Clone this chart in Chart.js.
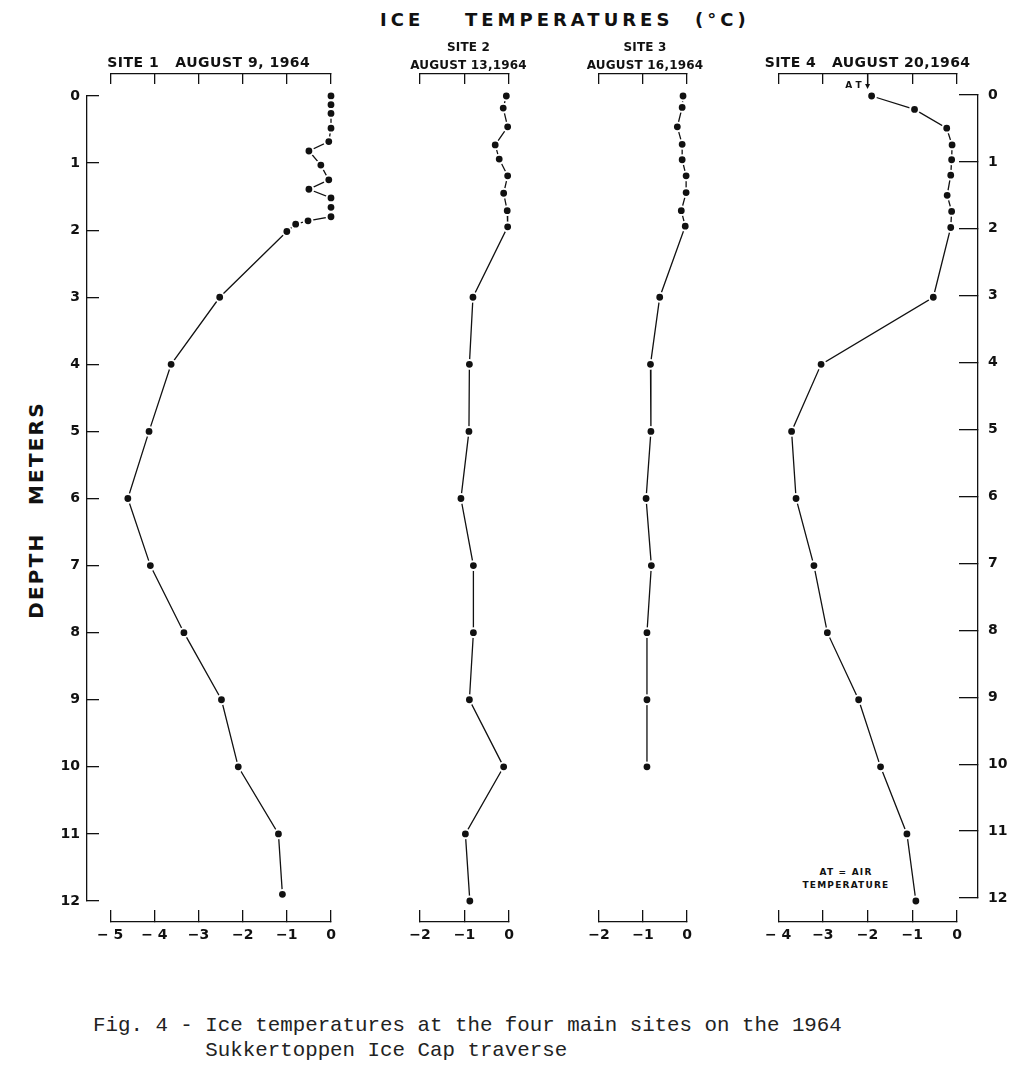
<!DOCTYPE html>
<html>
<head>
<meta charset="utf-8">
<script src="https://cdn.jsdelivr.net/npm/chart.js@4.4.1/dist/chart.umd.min.js"></script>
<style>
  html, body { margin: 0; padding: 0; background: #fff; }
  #page { position: relative; width: 1017px; height: 1083px; background: #fff; overflow: hidden; }
  #page canvas { position: absolute; top: 0; }
  .t { position: absolute; white-space: pre; color: #111; font-family: 'DejaVu Sans', sans-serif; line-height: 1; }
  .title { font-size: 18px; font-weight: bold; letter-spacing: 4px; top: 11px; }
  #depthLabel { left: 36px; top: 510px; font-size: 20px; font-weight: bold; letter-spacing: 2.2px; transform: translate(-50%, -50%) rotate(-90deg); }
  #atNote { left: 786px; top: 866px; width: 120px; text-align: center; font-size: 9px; font-weight: bold; letter-spacing: 1.2px; line-height: 13px; }
  #caption { left: 93px; top: 1013px; font-family: 'Liberation Mono', 'DejaVu Sans Mono', monospace; font-size: 20.8px; line-height: 25px; color: #222; }
</style>
</head>
<body>
<div id="page">
  <div class="t title" style="left:380px">ICE</div>
  <div class="t title" style="left:465px">TEMPERATURES</div>
  <div class="t title" style="left:695px">(°C)</div>
  <div class="t" id="depthLabel">DEPTH   METERS</div>
  <div class="t" id="atNote">AT = AIR
TEMPERATURE</div>
  <div class="t" id="caption">Fig. 4 - Ice temperatures at the four main sites on the 1964
         Sukkertoppen Ice Cap traverse</div>
</div>
<script>
// ---------------- data ----------------
const depthTickLabels = ['0', '1', '2', '3', '4', '5', '6', '7', '8', '9', '10', '11', '12'];

const site1Title = ['SITE 1   AUGUST 9, 1964'];
const site1Range = [-5, 0];
const site1TickLabels = ['\u2212 5', '\u2212 4', '\u22123', '\u22122', '\u22121', '0'];
const site1Depth = [0, 0.13, 0.26, 0.48, 0.68, 0.82, 1.03, 1.25, 1.39, 1.52, 1.66, 1.8, 1.86, 1.91, 2.02, 3, 4, 5, 6, 7, 8, 9, 10, 11, 11.9];
const site1Temp  = [0, 0, 0, 0, -0.05, -0.5, -0.23, -0.05, -0.5, 0, 0, 0, -0.52, -0.8, -1.0, -2.52, -3.62, -4.12, -4.6, -4.09, -3.33, -2.48, -2.1, -1.19, -1.1];

const site2Title = ['SITE 2', 'AUGUST 13,1964'];
const site2Range = [-2, 0];
const site2TickLabels = ['\u22122', '\u22121', '0'];
const site2Depth = [0, 0.18, 0.46, 0.73, 0.94, 1.19, 1.45, 1.71, 1.95, 3, 4, 5, 6, 7, 8, 9, 10, 11, 12];
const site2Temp  = [-0.06, -0.13, -0.03, -0.31, -0.22, -0.03, -0.12, -0.04, -0.03, -0.81, -0.89, -0.9, -1.08, -0.8, -0.8, -0.89, -0.12, -0.98, -0.88];

const site3Title = ['SITE 3', 'AUGUST 16,1964'];
const site3Range = [-2, 0];
const site3TickLabels = ['\u22122', '\u22121', '0'];
const site3Depth = [0, 0.17, 0.46, 0.72, 0.95, 1.19, 1.44, 1.71, 1.94, 3, 4, 5, 6, 7, 8, 9, 10];
const site3Temp  = [-0.09, -0.11, -0.22, -0.11, -0.11, -0.02, -0.02, -0.13, -0.04, -0.62, -0.83, -0.82, -0.93, -0.81, -0.91, -0.91, -0.91];

const site4Title = ['SITE 4   AUGUST 20,1964'];
const site4Range = [-4, 0];
const site4TickLabels = ['\u2212 4', '\u22123', '\u22122', '\u22121', '0'];
const site4Depth = [0, 0.2, 0.48, 0.73, 0.95, 1.18, 1.48, 1.72, 1.96, 3, 4, 5, 6, 7, 8, 9, 10, 11, 12];
const site4Temp  = [-1.91, -0.95, -0.23, -0.11, -0.12, -0.14, -0.22, -0.12, -0.14, -0.53, -3.04, -3.7, -3.6, -3.2, -2.9, -2.2, -1.71, -1.12, -0.92];
const site4AirTemp = -2;

// ---------------- layout ----------------
const INK = '#111';
const CANVAS_H = 1000;
const DEPTH0_PX = 96, DEPTH12_PX = 901;
const AREA_TOP = 74, AREA_BOTTOM = 922;
const PAD_X = 30;
const LEFT_AXIS_X = 87;
const RIGHT_AXIS_X = 978;
const NUM_FONT = { family: "'DejaVu Sans', sans-serif", size: 14, weight: 'bold' };
const page = document.getElementById('page');

function addCanvas(left, width) {
  const c = document.createElement('canvas');
  c.width = width; c.height = CANVAS_H;
  c.style.left = left + 'px';
  c.style.width = width + 'px'; c.style.height = CANVAS_H + 'px';
  page.appendChild(c);
  return c;
}

const baseOptions = () => ({
  responsive: false, animation: false, devicePixelRatio: 1, events: [],
  plugins: { legend: { display: false }, tooltip: { enabled: false } }
});

// site heading drawn above the top temperature axis (no width squeezing)
const siteHeading = (lines, align, size, firstY, gap, spacing, dx) => ({
  id: 'siteHeading',
  afterDraw(chart) {
    const s = chart.scales.xTop;
    const ctx = chart.ctx;
    ctx.save();
    ctx.letterSpacing = spacing + 'px';
    ctx.font = "bold " + size + "px 'DejaVu Sans'";
    ctx.fillStyle = INK;
    ctx.textBaseline = 'middle';
    ctx.textAlign = align === 'start' ? 'left' : 'center';
    const x = (align === 'start' ? s.left : (s.left + s.right) / 2) + dx;
    lines.forEach((t, i) => ctx.fillText(t, x, firstY + i * gap));
    ctx.restore();
  }
});

const atMarker = {
  id: 'atMarker',
  afterDraw(chart) {
    const s = chart.scales.xTop;
    const x = s.getPixelForValue(site4AirTemp);
    const y0 = s.bottom;
    const ctx = chart.ctx;
    ctx.save();
    ctx.strokeStyle = INK; ctx.fillStyle = INK; ctx.lineWidth = 1.3;
    ctx.beginPath(); ctx.moveTo(x, y0); ctx.lineTo(x, y0 + 12); ctx.stroke();
    ctx.beginPath(); ctx.moveTo(x - 2.5, y0 + 10); ctx.lineTo(x + 2.5, y0 + 10); ctx.lineTo(x, y0 + 15); ctx.closePath(); ctx.fill();
    ctx.font = "bold 9px 'DejaVu Sans'"; ctx.textAlign = 'right'; ctx.textBaseline = 'alphabetic';
    ctx.fillText('A T', x - 6, y0 + 14);
    ctx.restore();
  }
};

const panels = [
  { heading: siteHeading(site1Title, 'start', 14, 63, 18, 0.5, -3), range: site1Range, labels: site1TickLabels, depth: site1Depth, temp: site1Temp, left: 110, right: 331 },
  { heading: siteHeading(site2Title, 'center', 12, 47.5, 18, 0.2, 4), range: site2Range, labels: site2TickLabels, depth: site2Depth, temp: site2Temp, left: 420, right: 509 },
  { heading: siteHeading(site3Title, 'center', 12, 47.5, 18, 0.2, 2), range: site3Range, labels: site3TickLabels, depth: site3Depth, temp: site3Temp, left: 599, right: 687 },
  { heading: siteHeading(site4Title, 'center', 14, 63, 18, 0.4, 0), range: site4Range, labels: site4TickLabels, depth: site4Depth, temp: site4Temp, left: 778, right: 957, extra: [atMarker] }
];

const pxPerM = (DEPTH12_PX - DEPTH0_PX) / 12;

panels.forEach(p => {
  const cv = addCanvas(p.left - PAD_X, (p.right - p.left) + 2 * PAD_X);
  const opts = baseOptions();
  opts.layout = { padding: { left: PAD_X, right: PAD_X, top: 0, bottom: 0 } };
  opts.scales = {
    y: { type: 'linear', display: false, reverse: true,
         min: (AREA_TOP - DEPTH0_PX) / pxPerM, max: (AREA_BOTTOM - DEPTH0_PX) / pxPerM },
    x: { type: 'linear', position: 'bottom', min: p.range[0], max: p.range[1],
         afterFit: s => { s.height = CANVAS_H - AREA_BOTTOM; },
         ticks: { stepSize: 1, autoSkip: false, maxRotation: 0, padding: 17, color: INK, font: NUM_FONT,
                  callback: v => p.labels[Math.round(v - p.range[0])] },
         grid: { drawOnChartArea: false, drawTicks: true, tickLength: -12, color: INK, lineWidth: 1.3 },
         border: { display: true, color: INK, width: 1.3 } },
    xTop: { type: 'linear', position: 'top', min: p.range[0], max: p.range[1],
         afterFit: s => { s.height = AREA_TOP; },
         ticks: { display: false, stepSize: 1, autoSkip: false },
         grid: { drawOnChartArea: false, drawTicks: true, tickLength: -10, color: INK, lineWidth: 1.3 },
         border: { display: true, color: INK, width: 1.3 } }
  };
  new Chart(cv, {
    type: 'scatter',
    data: { datasets: [{
      data: p.depth.map((d, i) => ({ x: p.temp[i], y: d })),
      showLine: true, tension: 0, clip: false,
      borderColor: INK, borderWidth: 1.3,
      pointRadius: 4.4, pointHoverRadius: 4.4, pointBorderWidth: 2,
      pointBorderColor: '#fff', pointBackgroundColor: INK
    }] },
    options: opts,
    plugins: [p.heading].concat(p.extra || [])
  });
});

// left depth axis
(function () {
  const cv = addCanvas(0, 140);
  const opts = baseOptions();
  opts.layout = { padding: { left: 0, right: 0, top: DEPTH0_PX, bottom: CANVAS_H - DEPTH12_PX } };
  opts.scales = {
    x: { display: false, min: 0, max: 1 },
    y: { type: 'linear', position: 'left', reverse: true, min: 0, max: 12,
         afterFit: s => { s.width = LEFT_AXIS_X; },
         ticks: { stepSize: 1, autoSkip: false, padding: 19, color: INK, font: NUM_FONT,
                  callback: v => depthTickLabels[v] },
         grid: { drawOnChartArea: false, drawTicks: true, tickLength: -12, color: INK, lineWidth: 1.3 },
         border: { display: true, color: INK, width: 1.3 } }
  };
  new Chart(cv, { type: 'scatter', data: { datasets: [] }, options: opts });
})();

// right depth axis
(function () {
  const W = 137;
  const cv = addCanvas(1017 - W, W);
  const opts = baseOptions();
  opts.layout = { padding: { left: 0, right: 0, top: 95, bottom: CANVAS_H - 898 } };
  opts.scales = {
    x: { display: false, min: 0, max: 1 },
    y: { type: 'linear', position: 'right', reverse: true, min: 0, max: 12,
         afterFit: s => { s.width = 1017 - RIGHT_AXIS_X; },
         ticks: { stepSize: 1, autoSkip: false, padding: 29, color: INK, font: NUM_FONT,
                  callback: v => depthTickLabels[v] },
         grid: { drawOnChartArea: false, drawTicks: true, tickLength: -19, color: INK, lineWidth: 1.3 },
         border: { display: true, color: INK, width: 1.3 } }
  };
  new Chart(cv, { type: 'scatter', data: { datasets: [] }, options: opts });
})();
</script>
</body>
</html>
